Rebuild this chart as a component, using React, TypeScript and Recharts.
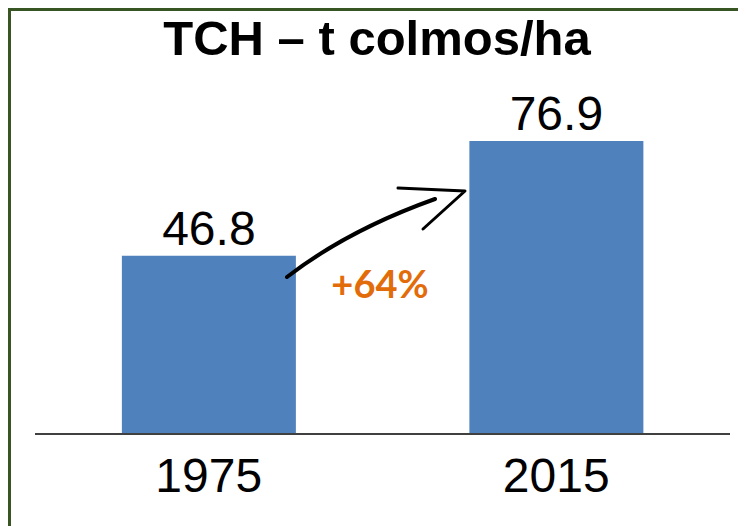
import { BarChart, Bar, XAxis, YAxis, LabelList } from 'recharts';

const YEARS = ['1975', '2015'];
const TCH = [46.8, 76.9];
const TITLE = 'TCH – t colmos/ha';
const GROWTH = '+64%';

const data = YEARS.map((year, i) => ({ year, value: TCH[i] }));

const FONT = '"Liberation Sans", Arial, sans-serif';

export default function App() {
  return (
    <div style={{ position: 'relative', width: 738, height: 518, background: '#fff' }}>
      <div
        style={{
          position: 'absolute',
          left: 0,
          top: 0,
          right: 0,
          bottom: 0,
          borderTop: '3px solid #375623',
          borderLeft: '3px solid #375623',
        }}
      />
      <BarChart
        width={738}
        height={518}
        data={data}
        margin={{ top: 45, right: 16, bottom: 32, left: 27 }}
        barCategoryGap="25%"
      >
        <XAxis
          dataKey="year"
          height={60}
          tickLine={false}
          tickSize={0}
          tickMargin={24}
          axisLine={{ stroke: '#404040', strokeWidth: 2 }}
          tick={{ fill: '#000', fontSize: 48, fontFamily: FONT }}
        />
        <YAxis hide domain={[0, 100]} />
        <Bar dataKey="value" fill="#4F81BD" isAnimationActive={false}>
          <LabelList
            dataKey="value"
            position="top"
            offset={11}
            fill="#000"
            fontSize={48}
            fontFamily={FONT}
          />
        </Bar>
      </BarChart>
      <svg
        width={738}
        height={518}
        style={{ position: 'absolute', left: 0, top: 0, pointerEvents: 'none' }}
      >
        <text
          x={369}
          y={47}
          textAnchor="middle"
          fontFamily={FONT}
          fontWeight="bold"
          fontSize={49}
          fill="#000"
        >
          {TITLE}
        </text>
        <path
          d="M279,269 Q340,222 427,191"
          fill="none"
          stroke="#000"
          strokeWidth={4}
          strokeLinecap="round"
        />
        <path
          d="M390,180 L457,183 L415,221"
          fill="none"
          stroke="#000"
          strokeWidth={3}
          strokeLinecap="round"
          strokeLinejoin="round"
        />
        <text
          x={372}
          y={290}
          textAnchor="middle"
          fontFamily="Lato, 'Open Sans', sans-serif"
          fontWeight="bold"
          fontSize={38}
          fill="#E36C0A"
        >
          {GROWTH}
        </text>
      </svg>
    </div>
  );
}
